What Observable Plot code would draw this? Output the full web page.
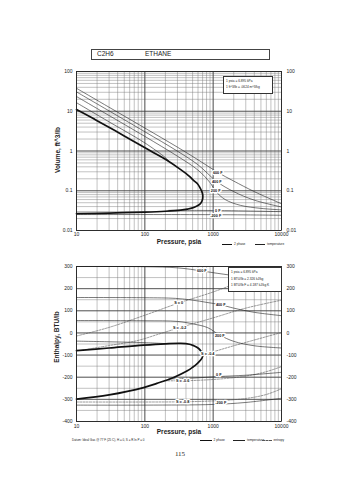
<!DOCTYPE html>
<html><head><meta charset="utf-8">
<script src="https://cdn.jsdelivr.net/npm/d3@7"></script>
<script src="https://cdn.jsdelivr.net/npm/@observablehq/plot@0.6"></script>
<style>
body{margin:0;background:#fff;font-family:"Liberation Sans",Arial,sans-serif;color:#222;-webkit-font-smoothing:antialiased;}
#page{position:relative;width:355px;height:480px;overflow:hidden;background:#fff;}
.abs{position:absolute;white-space:nowrap;line-height:1;}
.svgwrap{position:absolute;left:0;}
.box{position:absolute;background:#fff;border:0.7px solid #333;box-sizing:border-box;}
.ln{position:absolute;height:0;}
</style></head><body><div id="page"></div>
<script>
// ---------- tick values ----------
const pressureTicks = [10, 100, 1000, 10000];
const volumeTicks = [0.01, 0.1, 1, 10, 100];
const enthalpyTicks = [-400, -300, -200, -100, 0, 100, 200, 300];

// ---------- Volume chart (P psia, v ft^3/lb) ----------
const envelopeVolume = [[10,11],[20,5.8],[50,2.4],[122,1.0],[200,0.62],[335,0.34],[450,0.23],[520,0.18],[589,0.15],[640,0.12],[680,0.097],[700,0.083],[705,0.072],
  [700,0.062],[680,0.053],[640,0.046],[589,0.042],[500,0.037],[420,0.0345],[335,0.0325],[200,0.0305],[100,0.029],[30,0.0275],[10,0.0265]];
const vol600F = [[10,37.8],[30,12.6],[100,3.78],[300,1.25],[600,0.6],[1167,0.29],[2000,0.175],[4000,0.095],[10000,0.047]];
const vol400F = [[10,30.7],[30,10.2],[100,3.05],[300,0.99],[600,0.45],[1130,0.17],[2000,0.095],[4000,0.058],[10000,0.039]];
const vol200F = [[10,23.5],[30,7.8],[100,2.33],[300,0.74],[600,0.33],[900,0.16],[1090,0.097],[1500,0.06],[2500,0.043],[5000,0.036],[10000,0.033]];
const vol0Fvap = [[10,16.4],[30,5.4],[100,1.6],[200,0.68],[225,0.56]];
const vol0Fliq = [[225,0.0322],[600,0.032],[1167,0.0318],[3000,0.031],[10000,0.0298]];
const volM200F = [[10,0.0252],[100,0.0252],[1000,0.025],[3000,0.0247],[10000,0.0242]];
const volLabels = [
  {p:1167, v:0.29, t:"600 F"}, {p:1130, v:0.165, t:"400 F"}, {p:1090, v:0.097, t:"200 F"},
  {p:1167, v:0.0318, t:"0 F"}, {p:1090, v:0.0238, t:"-200 F"}];

// ---------- Enthalpy chart (P psia, H BTU/lb) ----------
const envelopeEnthalpy = [[10,-80],[30,-68],[96,-55],[200,-49],[335,-47],[450,-51],[520,-58],[600,-68],[655,-80],[690,-90],[708,-98],
  [690,-112],[655,-122],[589,-137],[500,-155],[419,-171],[264,-201],[150,-228],[96,-247],[30,-280],[10,-299]];
const h600F = [[10,300],[100,299],[300,294],[681,280],[1000,272],[2000,259],[4000,247],[10000,237]];
const h400F = [[10,160],[100,159],[280,156],[500,148],[800,138],[1291,127],[2000,112],[4000,93],[10000,78]];
const h200F = [[10,56],[100,55],[300,52],[520,40],[830,24],[1250,-10],[2000,-38],[4000,-58],[10000,-68]];
const h0Fvap = [[10,-37],[30,-40],[100,-44],[225,-49]];
const h0Fliq = [[225,-208],[500,-204],[1210,-197],[3000,-191],[10000,-178]];
const hM200F = [[10,-326],[100,-326],[1000,-323],[3000,-314],[10000,-295]];
const sZero = [[10,-14],[30,25],[100,80],[313,135],[1000,185],[3000,240],[10000,296]];
const sM02 = [[12,-78],[30,-57],[77,-35],[150,-8],[324,24],[1000,68],[3000,112],[10000,148]];
const sM04 = [[708,-96],[834,-92],[1200,-78],[2000,-58],[4000,-32],[10000,2]];
const sM06 = [[195,-216],[358,-216],[700,-213],[1500,-206],[3000,-195],[6000,-175],[10000,-152]];
const sM08 = [[10,-312],[100,-312],[358,-311],[1000,-307],[3000,-296],[6000,-278],[10000,-252]];
const hLabels = [
  {p:681, h:279, t:"600 F"}, {p:1291, h:127, t:"400 F"}, {p:1250, h:-14, t:"200 F"},
  {p:1210, h:-190, t:"0 F"}, {p:1291, h:-317, t:"-200 F"},
  {p:313, h:136, t:"S = 0"}, {p:324, h:24, t:"S = -0.2"}, {p:834, h:-94, t:"S = -0.4"},
  {p:358, h:-217, t:"S = -0.6"}, {p:358, h:-312, t:"S = -0.8"}];

// ---------- helpers ----------
function minorGrid(starts){ const out=[]; for(const d of starts) for(let k=1;k<10;k++) out.push(+(k*d).toPrecision(6)); return out; }
const xGrid = minorGrid([10,100,1000]).concat([10000]);
const yGridTop = minorGrid([0.01,0.1,1,10]).concat([100]);
const yGridBottom = d3.range(-400, 301, 50);
const P = d=>d[0], V = d=>d[1];
const style = {fontFamily:"Liberation Sans, Arial, sans-serif", fontSize:"5px", background:"transparent", color:"#222", overflow:"visible"};
const iso = (data)=>Plot.line(data,{x:P,y:V,stroke:"#222",strokeWidth:0.6,curve:"catmull-rom"});
const ent = (data)=>Plot.line(data,{x:P,y:V,stroke:"#555",strokeWidth:0.6,strokeDasharray:"2,1.3",curve:"catmull-rom"});
const env = (data)=>Plot.line(data,{x:P,y:V,stroke:"#111",strokeWidth:1.7,curve:"catmull-rom"});
const fmt = d=>String(d);

const page = document.getElementById("page");
function place(el, top){ const w=document.createElement("div"); w.className="svgwrap"; w.style.top=top+"px"; w.appendChild(el); page.appendChild(w); }

// ---------- top chart ----------
const topChart = Plot.plot({
  width:355, height:190, marginLeft:76, marginRight:74, marginTop:9, marginBottom:22, style,
  x:{type:"log", domain:[10,10000]},
  y:{type:"log", domain:[0.01,100]},
  marks:[
    Plot.ruleX(xGrid,{stroke:"#777",strokeWidth:0.45}),
    Plot.ruleY(yGridTop,{stroke:"#777",strokeWidth:0.45}),
    Plot.ruleX(pressureTicks,{stroke:"#333",strokeWidth:0.7}),
    Plot.ruleY(volumeTicks,{stroke:"#333",strokeWidth:0.7}),
    iso(vol600F), iso(vol400F), iso(vol200F), iso(vol0Fvap), iso(vol0Fliq), iso(volM200F),
    env(envelopeVolume),
    Plot.text(volLabels,{x:"p",y:"v",text:"t",fontSize:3.8,fontWeight:"bold",fill:"#111",stroke:"white",strokeWidth:2.5}),
    Plot.frame({stroke:"#222",strokeWidth:0.8}),
    Plot.axisX({ticks:pressureTicks,tickSize:0,tickPadding:2,tickFormat:fmt,label:null,fill:"#222"}),
    Plot.axisY({anchor:"left",ticks:volumeTicks,tickSize:0,tickPadding:4,tickFormat:fmt,label:null,fill:"#222"}),
    Plot.axisY({anchor:"right",ticks:volumeTicks,tickSize:0,tickPadding:5,tickFormat:fmt,label:null,fill:"#222"})
  ]
});
place(topChart, 62);

// ---------- bottom chart ----------
const botChart = Plot.plot({
  width:355, height:175, marginLeft:76, marginRight:74, marginTop:8, marginBottom:12, style,
  x:{type:"log", domain:[10,10000]},
  y:{domain:[-400,300]},
  marks:[
    Plot.ruleX(xGrid,{stroke:"#777",strokeWidth:0.45}),
    Plot.ruleY(yGridBottom,{stroke:"#777",strokeWidth:0.45}),
    Plot.ruleX(pressureTicks,{stroke:"#333",strokeWidth:0.7}),
    Plot.ruleY(enthalpyTicks,{stroke:"#333",strokeWidth:0.7}),
    ent(sZero), ent(sM02), ent(sM04), ent(sM06), ent(sM08),
    iso(h600F), iso(h400F), iso(h200F), iso(h0Fvap), iso(h0Fliq), iso(hM200F),
    env(envelopeEnthalpy),
    Plot.text(hLabels,{x:"p",y:"h",text:"t",fontSize:3.8,fontWeight:"bold",fill:"#111",stroke:"white",strokeWidth:2.5}),
    Plot.frame({stroke:"#222",strokeWidth:0.8}),
    Plot.axisX({ticks:pressureTicks,tickSize:0,tickPadding:3,tickFormat:fmt,label:null,fill:"#222"}),
    Plot.axisY({anchor:"left",ticks:enthalpyTicks,tickSize:0,tickPadding:4,tickFormat:fmt,label:null,fill:"#222"}),
    Plot.axisY({anchor:"right",ticks:enthalpyTicks,tickSize:0,tickPadding:5,tickFormat:fmt,label:null,fill:"#222"})
  ]
});
place(botChart, 258);

// ---------- HTML text / boxes ----------
function txt(s, x, y, css){ const d=document.createElement("div"); d.className="abs"; d.textContent=s; d.style.left=x+"px"; d.style.top=y+"px"; Object.assign(d.style, css||{}); page.appendChild(d); return d; }
function hline(x1, x2, y, css){ const d=document.createElement("div"); d.className="ln"; d.style.left=x1+"px"; d.style.width=(x2-x1)+"px"; d.style.top=y+"px"; Object.assign(d.style, css); page.appendChild(d); }

// title box
const tb=document.createElement("div"); tb.className="box"; Object.assign(tb.style,{left:"91px",top:"48.5px",width:"178.5px",height:"11px",border:"1px solid #444"}); page.appendChild(tb);
txt("C2H6", 97, 51, {fontSize:"6.5px"});
txt("ETHANE", 145, 51, {fontSize:"6.5px"});

// unit boxes
const ub1=document.createElement("div"); ub1.className="box"; Object.assign(ub1.style,{left:"223px",top:"76px",width:"50px",height:"18px"}); page.appendChild(ub1);
txt("1 psia  =  6.895 kPa", 226, 80, {fontSize:"3.2px"});
txt("1 ft^3/lb  =  .0624 m^3/kg", 226, 86, {fontSize:"3.2px"});
const ub2=document.createElement("div"); ub2.className="box"; Object.assign(ub2.style,{left:"228px",top:"267px",width:"54px",height:"25px"}); page.appendChild(ub2);
txt("1 psia  =  6.895 kPa", 231, 271, {fontSize:"3.2px"});
txt("1 BTU/lb  =  2.326 kJ/kg", 231, 277.5, {fontSize:"3.2px"});
txt("1 BTU/lb F  =  4.187 kJ/kg K", 231, 284, {fontSize:"3.2px"});

// axis titles
function vtitle(s, cx, cy){ txt(s, cx, cy, {fontSize:"6.5px",fontWeight:"bold",transform:"translate(-50%,-50%) rotate(-90deg)"}); }
vtitle("Volume, ft^3/lb", 58, 150);
vtitle("Enthalpy, BTU/lb", 57, 337);
function htitle(s, cx, cy){ txt(s, cx, cy, {fontSize:"6.5px",fontWeight:"bold",transform:"translate(-50%,-50%)"}); }
htitle("Pressure,  psia", 179, 241.5);
htitle("Pressure,  psia", 179, 432);

// legends
hline(222, 232, 243.5, {borderTop:"1.7px solid #111"});
txt("2 phase", 234, 242.5, {fontSize:"3.2px"});
hline(255, 265, 244, {borderTop:"0.7px solid #222"});
txt("temperature", 267, 242.5, {fontSize:"3.2px"});

hline(200, 212, 439.5, {borderTop:"1.7px solid #111"});
txt("2 phase", 213.5, 438.5, {fontSize:"3.2px"});
hline(233, 245, 440, {borderTop:"0.7px solid #222"});
txt("temperature", 247, 438.5, {fontSize:"3.2px"});
hline(262, 272, 440, {borderTop:"0.7px dashed #555"});
txt("entropy", 273.5, 438.5, {fontSize:"3.2px"});

txt("Datum: Ideal Gas @ 77 F (25 C),  H = 0,  S = R ln P = 0", 72, 438.5, {fontSize:"3px"});
txt("115", 180, 454, {fontSize:"7px",fontFamily:"Liberation Serif, serif",transform:"translate(-50%,-50%)"});
</script></body></html>
